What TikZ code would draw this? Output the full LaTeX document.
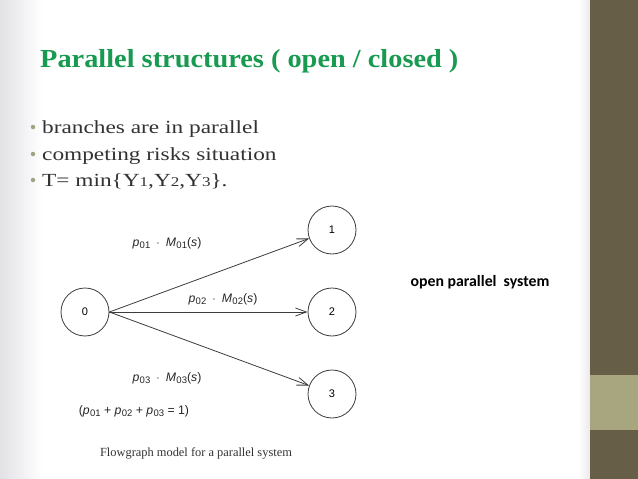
\documentclass[tikz,border=0pt]{standalone}
\usepackage{fontspec}
\setmainfont{Liberation Serif}
\newfontfamily\titlefont[FakeStretch=1.09]{Liberation Serif}
\newfontfamily\bodyfont[FakeStretch=1.26]{Liberation Serif}
\newfontfamily\figfont{Liberation Sans}
\newfontfamily\calfont{Carlito}
\usetikzlibrary{arrows.meta}
\definecolor{titlegreen}{RGB}{24,154,80}
\definecolor{bodytext}{RGB}{50,50,50}
\definecolor{bulletcol}{RGB}{160,164,130}
\definecolor{barbrown}{RGB}{103,94,72}
\definecolor{barlight}{RGB}{168,166,126}
\definecolor{edgegray}{RGB}{226,226,230}
\definecolor{linegray}{RGB}{60,60,60}
\newcommand\pvar[1]{\textit{p}\kern0.3pt\raisebox{-0.35ex}{\fontsize{9.5}{10}\selectfont #1}}
\newcommand\Mvar[1]{\textit{M}\kern0.3pt\raisebox{-0.35ex}{\fontsize{9.5}{10}\selectfont #1}(\textit{s})}
\newcommand\ysub[1]{\raisebox{-0.1ex}{\fontsize{13.5}{14}\selectfont #1}}
\tikzset{
  state/.style={circle, draw=linegray, line width=0.8pt, minimum size=48pt, inner sep=0pt, font=\figfont\fontsize{11}{13}\selectfont},
  flow/.style={draw=linegray, line width=0.8pt, -{Straight Barb[length=11pt,width=8pt]}},
  flabel/.style={font=\figfont\fontsize{12.3}{14}\selectfont, text=black!85, inner sep=0pt},
  bullettext/.style={anchor=base west, font=\bodyfont\fontsize{18.5}{21}\selectfont, text=bodytext, inner sep=0pt},
  bulletdot/.style={circle, fill=bulletcol, minimum size=4.5pt, inner sep=0pt}
}
\begin{document}
\begin{tikzpicture}[x=1pt,y=-1pt]
\useasboundingbox (0,0) rectangle (638,479);
\fill[white] (0,0) rectangle (638,479);
\shade[left color=edgegray, right color=white] (0,0) rectangle (42,479);
\shade[left color=white, right color=edgegray!70] (578,0) rectangle (590,479);
\fill[barbrown] (590,0) rectangle (638,479);
\fill[barlight] (590,375) rectangle (638,430);
\fill[white] (42,200) rectangle (402,470);

\node[anchor=base west, inner sep=0pt, text=titlegreen, font=\titlefont\bfseries\fontsize{26}{30}\selectfont] (title) at (40,67) {Parallel structures ( open / closed )};

\node[bulletdot] (d1) at (33,127) {};
\node[bullettext] (b1) at (42,133) {branches are in parallel};
\node[bulletdot] (d2) at (33,154) {};
\node[bullettext] (b2) at (42,160) {competing risks situation};
\node[bulletdot] (d3) at (33,180) {};
\node[bullettext] (b3) at (42,186) {T= min\{Y\ysub{1},Y\ysub{2},Y\ysub{3}\}.};

\node[state] (n0) at (85,312) {0};
\node[state] (n1) at (332,230) {1};
\node[state] (n2) at (332,312) {2};
\node[state] (n3) at (332,394) {3};

\draw[flow] (n0.east) -- (n1);
\draw[flow] (n0.east) -- (n2);
\draw[flow] (n0.east) -- (n3);

\node[flabel] (l1) at (167,243) {\pvar{01}\enspace$\cdot$\enspace\Mvar{01}};
\node[flabel] (l2) at (223,299) {\pvar{02}\enspace$\cdot$\enspace\Mvar{02}};
\node[flabel] (l3) at (167,378) {\pvar{03}\enspace$\cdot$\enspace\Mvar{03}};
\node[flabel] (sum) at (134,411) {(\pvar{01} + \pvar{02} + \pvar{03} = 1)};
\node[inner sep=0pt, font=\fontsize{12.4}{14}\selectfont, text=black!80] (cap) at (196,453) {Flowgraph model for a parallel system};

\node[inner sep=0pt, font=\calfont\bfseries\fontsize{15.8}{18}\selectfont, text=black] (open) at (480,282) {open parallel\ \ system};
\end{tikzpicture}
\end{document}
